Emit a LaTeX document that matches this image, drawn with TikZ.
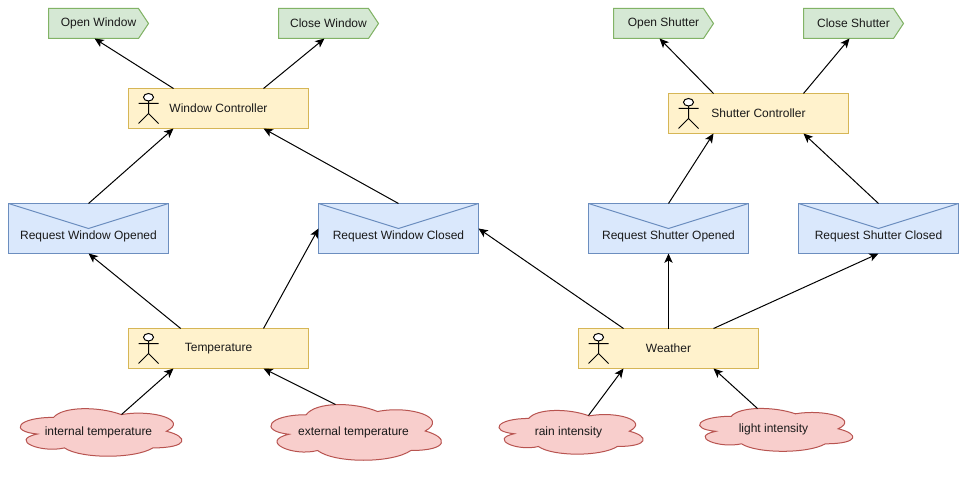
\documentclass[tikz,border=0pt]{standalone}
\usepackage{fontspec}
\setmainfont{Liberation Sans}
\usetikzlibrary{arrows.meta,calc}
\definecolor{gfill}{HTML}{D5E8D4}\definecolor{gline}{HTML}{82B366}
\definecolor{bfill}{HTML}{DAE8FC}\definecolor{bline}{HTML}{6C8EBF}
\definecolor{yfill}{HTML}{FFF2CC}\definecolor{yline}{HTML}{D6B656}
\definecolor{rfill}{HTML}{F8CECC}\definecolor{rline}{HTML}{B85450}
\tikzset{
  base/.style={inner sep=0pt,outer sep=0pt,font=\fontsize{9pt}{11pt}\selectfont,text=black!90},
  agentbox/.style={base,draw=yline,fill=yfill,line width=.75pt,minimum width=135pt,minimum height=30pt},
  mailbox/.style={base,draw=bline,fill=bfill,line width=.75pt,minimum width=120pt,minimum height=37.5pt},
  tagbox/.style={base,minimum width=75pt,minimum height=22.5pt},
  cloudbox/.style={base},
  conn/.style={-{Stealth[length=7pt,width=6.2pt,inset=1.8pt]},line width=.75pt,black},
  figure/.style={line width=.75pt,black},
}
% actor figure: top-left corner at (#1,#2)
\newcommand{\actorfig}[2]{%
  \begin{scope}[shift={(#1,#2)}]
    \draw[figure,fill=white] (10,3.75) ellipse (5 and 3.75);
    \draw[figure] (10,7.5) -- (10,20) (0,10) -- (20,10) (0,30) -- (10,20) -- (20,30);
  \end{scope}}
% message box with flap, text lowered
\newcommand{\mailfig}[5]{% name, left, top, text
  \node[mailbox] (#1) at (#2+80,#3+25) {};
  \draw[bline,line width=.75pt] (#2,#3) -- (#2+80,#3+25) -- (#2+160,#3);
  \node[base] (#1t) at (#2+80,#3+33) {#4};}
% output tag
\newcommand{\tagfig}[4]{% name,left,top,text
  \draw[gline,fill=gfill,line width=.75pt] (#2,#3) -- (#2+90,#3) -- (#2+100,#3+15) -- (#2+90,#3+30) -- (#2,#3+30) -- cycle;
  \node[tagbox,minimum width=75pt] (#1) at (#2+50,#3+15) {#4};}
% cloud: left top w h
\newcommand{\cloudfig}[4]{%
  \begin{scope}[shift={(#1,#2)},x=#3*.75pt,y=-#4*.75pt]
    \draw[rline,fill=rfill,line width=.75pt]
      (.25,.25) .. controls (.05,.25) and (0,.5) .. (.16,.55)
      .. controls (0,.66) and (.18,.9) .. (.31,.8)
      .. controls (.4,1) and (.7,1) .. (.8,.8)
      .. controls (1,.8) and (1,.6) .. (.875,.5)
      .. controls (1,.3) and (.8,.1) .. (.625,.2)
      .. controls (.5,.05) and (.3,.05) .. (.25,.25) -- cycle;
  \end{scope}}
\begin{document}
\begin{tikzpicture}[x=.75pt,y=-.75pt]
\useasboundingbox (-.5,-.5) rectangle (970.5,476.5);
\fill[white] (-.5,-.5) rectangle (970.5,476.5);

\tagfig{ow}{48}{8}{Open Window}
\tagfig{cw}{278}{8}{Close Window}
\tagfig{os}{613}{8}{Open Shutter}
\tagfig{cs}{803}{8}{Close Shutter}

\node[agentbox] (wc) at (218,108) {Window Controller};
\actorfig{138}{93}
\node[agentbox] (sc) at (758,113) {Shutter Controller};
\actorfig{678}{98}
\node[agentbox] (tp) at (218,348) {Temperature};
\actorfig{138}{333}
\node[agentbox] (we) at (668,348) {Weather};
\actorfig{588}{333}

\mailfig{ro}{8}{203}{Request Window Opened}{}
\mailfig{rc}{318}{203}{Request Window Closed}{}
\mailfig{so}{588}{203}{Request Shutter Opened}{}
\mailfig{sc2}{798}{203}{Request Shutter Closed}{}

\cloudfig{8}{403}{180.5}{55.5}
\node[cloudbox] (c1) at (98,432) {internal temperature};
\cloudfig{258}{398}{190.5}{65}
\node[cloudbox] (c2) at (353,432) {external temperature};
\cloudfig{488}{405.2}{161}{51}
\node[cloudbox] (c3) at (568,432) {rain intensity};
\cloudfig{688}{403.3}{171}{50}
\node[cloudbox] (c4) at (773,429) {light intensity};

\coordinate (c1a) at ($(c1.center)+(23,-18)$);
\coordinate (c2a) at ($(c2.center)+(-18,-28)$);
\coordinate (c3a) at ($(c3.center)+(20,-17)$);
\coordinate (c4a) at ($(c4.center)+(-16,-21)$);

% to tags
\draw[conn] ($(wc.north west)!.25!(wc.north east)$) -- ($(ow.south west)!.46!(ow.south east)$);
\draw[conn] ($(wc.north west)!.75!(wc.north east)$) -- ($(cw.south west)!.46!(cw.south east)$);
\draw[conn] ($(sc.north west)!.25!(sc.north east)$) -- ($(os.south west)!.46!(os.south east)$);
\draw[conn] ($(sc.north west)!.75!(sc.north east)$) -- ($(cs.south west)!.46!(cs.south east)$);
% messages to controllers
\draw[conn] (ro.north) -- ($(wc.south west)!.25!(wc.south east)$);
\draw[conn] (rc.north) -- ($(wc.south west)!.75!(wc.south east)$);
\draw[conn] (so.north) -- ($(sc.south west)!.25!(sc.south east)$);
\draw[conn] (sc2.north) -- ($(sc.south west)!.75!(sc.south east)$);
% sensors to messages
\draw[conn] ($(tp.north west)!.29!(tp.north east)$) -- (ro.south);
\draw[conn] ($(tp.north west)!.75!(tp.north east)$) -- (rc.west);
\draw[conn] ($(we.north west)!.25!(we.north east)$) -- (rc.east);
\draw[conn] (we.north) -- (so.south);
\draw[conn] ($(we.north west)!.75!(we.north east)$) -- (sc2.south);
% clouds to sensors
\draw[conn] (c1a) -- ($(tp.south west)!.25!(tp.south east)$);
\draw[conn] (c2a) -- ($(tp.south west)!.75!(tp.south east)$);
\draw[conn] (c3a) -- ($(we.south west)!.25!(we.south east)$);
\draw[conn] (c4a) -- ($(we.south west)!.75!(we.south east)$);
\end{tikzpicture}
\end{document}
